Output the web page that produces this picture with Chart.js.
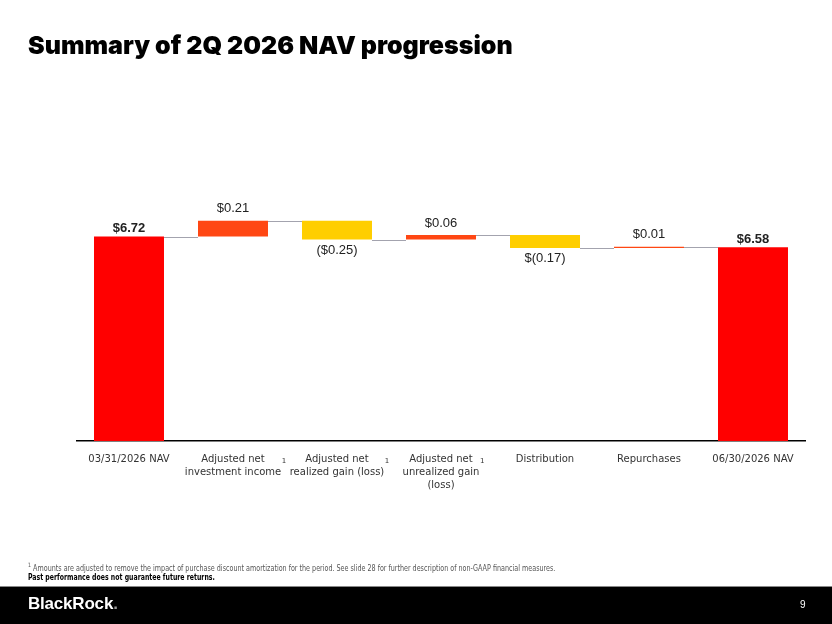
<!DOCTYPE html>
<html>
<head>
<meta charset="utf-8">
<script src="https://cdn.jsdelivr.net/npm/chart.js@4.4.1/dist/chart.umd.min.js"></script>
<style>
  html, body { margin:0; padding:0; width:832px; height:624px; overflow:hidden; background:#fff; }
  #wrap { position:absolute; left:0; top:0; width:832px; height:624px; }
  .title { position:absolute; left:28px; top:30px; font-family:Inter, Roboto, sans-serif; font-weight:900; font-size:25px; color:#000; white-space:nowrap; }
  .fn1 { position:absolute; left:28px; top:561px; font-family:"Liberation Sans Narrow","DejaVu Sans Condensed","Liberation Sans",sans-serif; font-size:8px; color:#555; white-space:nowrap; transform:scaleX(0.89); transform-origin:0 0; }
  .fn2 { position:absolute; left:28px; top:572px; font-family:"Liberation Sans Narrow","DejaVu Sans Condensed","Liberation Sans",sans-serif; font-weight:bold; font-size:8.5px; color:#000; white-space:nowrap; transform:scaleX(0.81); transform-origin:0 0; }
  .footer { position:absolute; left:0; top:586px; width:832px; height:38px; background:#000; border-top:1px solid #888; box-sizing:border-box; }
  .logo { position:absolute; left:28px; top:594px; font-family:"Liberation Sans",Arial,sans-serif; font-weight:bold; font-size:17px; color:#fff; white-space:nowrap; letter-spacing:-0.2px; }
  .logo span { color:#999; }
  .page { position:absolute; left:800px; top:599px; font-family:"Liberation Sans",Arial,sans-serif; font-size:10px; color:#fff; }
</style>
</head>
<body>
<div id="wrap"><canvas id="c"></canvas></div>
<div class="title">Summary of 2Q 2026 NAV progression</div>
<div class="fn1"><sup style="font-size:6px">1</sup> Amounts are adjusted to remove the impact of purchase discount amortization for the period. See slide 28 for further description of non-GAAP financial measures.</div>
<div class="fn2">Past performance does not guarantee future returns.</div>
<div class="footer"></div>
<div class="logo">BlackRock<span>.</span></div>
<div class="page">9</div>
<script>
// ---- data ----
const categories = [
  ["03/31/2026 NAV"],
  ["Adjusted net", "investment income"],
  ["Adjusted net", "realized gain (loss)"],
  ["Adjusted net", "unrealized gain", "(loss)"],
  ["Distribution"],
  ["Repurchases"],
  ["06/30/2026 NAV"]
];
const footnoteMarks = ["", "1", "1", "1", "", "", ""];
const startNav = 6.72;
const changes = [0.21, -0.25, 0.06, -0.17, 0.01];
const endNav = 6.58;
const valueLabels = ["$6.72", "$0.21", "($0.25)", "$0.06", "$(0.17)", "$0.01", "$6.58"];
const yMin = 4, yMax = 7.5;

// ---- build floating ranges ----
const ranges = [[yMin, startNav]];
const levels = [startNav];
let run = startNav;
changes.forEach(c => { const s = run; run = +(run + c).toFixed(4); ranges.push([s, run]); levels.push(run); });
ranges.push([yMin, endNav]);
levels.push(endNav);

const colTotal = "#FF0000", colUp = "#FF4713", colDown = "#FFCE00";
const colors = ranges.map((r, i) => (i === 0 || i === ranges.length - 1) ? colTotal : (r[1] >= r[0] ? colUp : colDown));

const waterfallPlugin = {
  id: "waterfall",
  afterDatasetsDraw(chart) {
    const ctx = chart.ctx;
    const meta = chart.getDatasetMeta(0);
    const ys = chart.scales.y;
    const xs = chart.scales.x;
    ctx.save();
    // connectors
    ctx.strokeStyle = "#A3A3AE";
    ctx.lineWidth = 1;
    for (let i = 0; i < meta.data.length - 1; i++) {
      const a = meta.data[i], b = meta.data[i + 1];
      const y = Math.round(ys.getPixelForValue(levels[i])) + 0.5;
      ctx.beginPath();
      ctx.moveTo(a.x + a.width / 2, y);
      ctx.lineTo(b.x - b.width / 2, y);
      ctx.stroke();
    }
    // value labels
    ctx.fillStyle = "#222";
    ctx.textAlign = "center";
    ctx.textBaseline = "middle";
    meta.data.forEach((bar, i) => {
      const top = Math.min(bar.y, bar.base), bottom = Math.max(bar.y, bar.base);
      const isTotal = (i === 0 || i === meta.data.length - 1);
      const r = ranges[i];
      ctx.font = (isTotal ? "bold " : "") + "13px 'Liberation Sans', Arial, sans-serif";
      if (isTotal) ctx.fillText(valueLabels[i], bar.x, top - 8);
      else if (r[1] >= r[0]) ctx.fillText(valueLabels[i], bar.x, top - 12);
      else ctx.fillText(valueLabels[i], bar.x, bottom + 11);
    });
    // footnote superscripts on tick labels
    ctx.font = "10px 'DejaVu Sans', sans-serif";
    const bottomY = chart.chartArea.bottom;
    categories.forEach((lines, i) => {
      if (!footnoteMarks[i]) return;
      const w = Math.max(...lines.map(l => ctx.measureText(l).width));
      const cx = xs.getPixelForValue(i);
      ctx.save();
      ctx.font = "7px 'DejaVu Sans', sans-serif";
      ctx.fillStyle = "#333";
      ctx.textAlign = "left";
      ctx.fillText(footnoteMarks[i], cx + w / 2 + 0.5, bottomY + 20);
      ctx.restore();
    });
    ctx.restore();
  }
};

new Chart(document.getElementById("c"), {
  type: "bar",
  data: {
    labels: categories,
    datasets: [{
      data: ranges,
      backgroundColor: colors,
      borderWidth: 0,
      borderSkipped: false,
      minBarLength: 1.2,
      categoryPercentage: 1,
      barPercentage: 0.673
    }]
  },
  options: {
    responsive: true,
    maintainAspectRatio: false,
    animation: false,
    layout: { padding: { top: 178, bottom: 123, left: 77, right: 27 } },
    plugins: { legend: { display: false }, tooltip: { enabled: false } },
    scales: {
      y: { display: false, min: yMin, max: yMax },
      x: {
        grid: { display: false, drawTicks: false },
        border: { display: true, color: "#000", width: 1.5 },
        ticks: {
          color: "#333",
          padding: 11.5,
          maxRotation: 0,
          autoSkip: false,
          font: { family: "'DejaVu Sans', sans-serif", size: 10, lineHeight: 1.3 }
        },
        afterFit(scale) { scale.height = 60; }
      }
    }
  },
  plugins: [waterfallPlugin]
});
</script>
</body>
</html>
